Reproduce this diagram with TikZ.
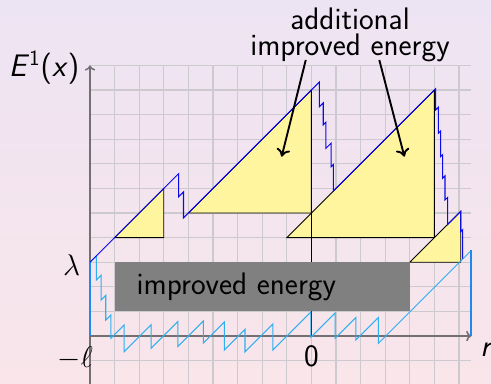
\documentclass[tikz,border=0pt]{standalone}
\usetikzlibrary{arrows.meta}
\definecolor{bgtop}{RGB}{237,228,243}
\definecolor{bgbot}{RGB}{249,229,234}
\definecolor{gridc}{RGB}{205,202,207}
\definecolor{axisc}{RGB}{115,112,116}
\definecolor{curveA}{RGB}{10,10,235}
\definecolor{curveB}{RGB}{45,175,240}
\definecolor{curveC}{RGB}{35,135,240}
\definecolor{triY}{RGB}{255,245,158}
\definecolor{boxg}{RGB}{128,128,128}
\tikzset{
  gridline/.style={draw=gridc, line width=0.7pt},
  axisline/.style={draw=axisc, line width=0.9pt, -{To[length=3pt,width=6pt]}},
  tri/.style={fill=triY, draw=black, line width=0.5pt, line join=miter},
  darkcurve/.style={draw=curveA, line width=0.6pt, line join=miter},
  lightcurve/.style={draw=curveB, line width=0.6pt, line join=miter},
  edgecurve/.style={draw=curveC, line width=1.1pt},
  callout/.style={draw=black, line width=1.1pt, -{To[length=4.5pt,width=8pt]}},
  lbl/.style={inner sep=0pt, text=black}
}
\begin{document}
\begin{tikzpicture}[x=0.5cm,y=0.5cm,font=\sffamily\fontsize{18}{15}\selectfont]
\shade[top color=bgtop, bottom color=bgbot] (-3.659,-1.911) rectangle (16.30,13.659);
\useasboundingbox (-3.659,-1.911) rectangle (16.30,13.659);
% grid
\draw[gridline, step=0.5cm] (0,-2) grid (15.5,11);
% axes
\draw[axisline] (0,-2) -- (0,11);
\draw[axisline] (0,0) -- (15.5,0);
% triangles
\draw[tri] (1,4) -- (3,4) -- (3,6) -- cycle;
\draw[tri] (8,4) -- (14,4) -- (14,10) -- cycle;
\draw[tri] (4,5) -- (9,5) -- (9,10) -- cycle;
\draw[tri] (13,3) -- (15.07,3) -- (15.07,5.07) -- cycle;
\draw[black, line width=0.5pt] (9,0) -- (9,10);
% light curve
\draw[lightcurve] (0,3) -- (0.26,3.26) -- (0.26,2.28) -- (0.45,2.47) -- (0.45,1.46) -- (0.64,1.65) -- (0.64,0.65) -- (0.85,0.86) -- (0.85,-0.09)
 -- (1.39,0.45) -- (1.39,-0.64) -- (2.48,0.45) -- (2.48,-0.5) -- (3.57,0.59) -- (3.57,-0.43) -- (4.61,0.61) -- (4.61,-0.28)
 -- (5.46,0.57) -- (5.46,-0.57) -- (6.30,0.27) -- (6.30,-0.64) -- (7.43,0.49) -- (7.43,-0.57) -- (8.98,0.98) -- (8.98,-0.05)
 -- (9.96,0.93) -- (9.96,-0.09) -- (10.81,0.76) -- (10.81,-0.16) -- (11.72,0.75) -- (11.72,-0.3) -- (15.5,3.48);
\draw[edgecurve] (0,0) -- (0,3);
\draw[edgecurve] (15.5,0) -- (15.5,3.48);
% dark curve
\draw[darkcurve] (0,3) -- (3.6,6.6) -- (3.6,5.66) -- (3.8,5.86) -- (3.8,4.8) -- (9.32,10.32) -- (9.32,9.32) -- (9.48,9.48) -- (9.48,8.58)
 -- (9.59,8.69) -- (9.59,7.63) -- (9.8,7.84) -- (9.8,6.88) -- (9.89,6.97) -- (9.89,5.89) -- (14.05,10.05) -- (14.05,9.19)
 -- (14.16,9.30) -- (14.16,8.24) -- (14.25,8.33) -- (14.25,7.29) -- (14.33,7.37) -- (14.33,6.41) -- (14.43,6.51) -- (14.43,5.53)
 -- (14.54,5.64) -- (14.54,4.54) -- (15.07,5.07) -- (15.07,4.24) -- (15.15,4.32) -- (15.15,3.15);
% grey box
\fill[boxg] (1,1) rectangle (13,3);
\node[lbl] (imp) at (5.95,2.0) {improved energy};
% labels
\node[lbl] (ylab) at (-1.87,10.91) {\textsl{E}\textsuperscript{1}(\textsl{x})};
\node[lbl] (lam) at (-0.75,2.9) {$\lambda$};
\node[lbl] (ell) at (-0.6,-0.9) {$-\ell$};
\node[lbl] (zero) at (9,-0.81) {0};
\node[lbl] (rlab) at (16.12,-0.57) {\textsl{r}};
\node[lbl, align=center] (addl) at (10.57,12.24) {additional\\improved energy};
% callouts
\coordinate (s1) at (8.77,11.22);
\coordinate (s2) at (11.76,11.22);
\coordinate (t1) at (7.79,7.29);
\coordinate (t2) at (12.78,7.29);
\draw[callout] (s1) -- (t1);
\draw[callout] (s2) -- (t2);
\end{tikzpicture}
\end{document}
